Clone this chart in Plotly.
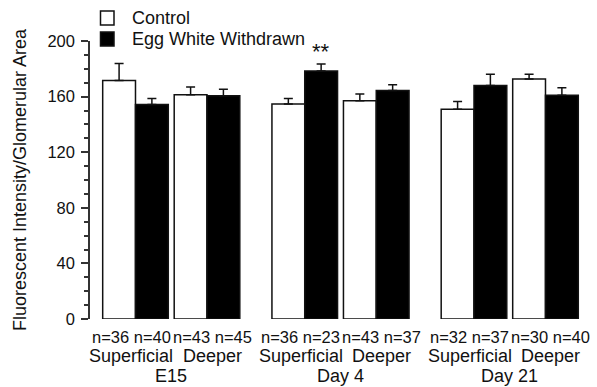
import plotly.graph_objects as go

# ---- data ----
groups = ["E15", "Day 4", "Day 21"]
layers = ["Superficial", "Deeper"]
series_names = ["Control", "Egg White Withdrawn"]
control_mean = [171.5, 161.4, 154.7, 157.1, 150.9, 172.6]
control_sem = [12.4, 5.5, 3.9, 4.8, 5.5, 3.4]
withdrawn_mean = [154.3, 160.7, 178.4, 164.3, 167.9, 160.9]
withdrawn_sem = [4.3, 4.5, 5.0, 4.3, 8.1, 5.5]
control_n = [36, 43, 36, 43, 32, 30]
withdrawn_n = [40, 45, 23, 37, 37, 40]
withdrawn_sig = ["", "", "**", "", "", ""]
y_ticks = [0, 40, 80, 120, 160, 200]

# ---- layout geometry (in bar-width units) ----
PX = 32.8            # pixels per bar width
FIRST = 1.387
GROUP_STEP = 5.16
PAIR_STEP = 2.18
BAR_W = 1.0
X_MAX = 500 / PX
LABEL_SHIFT = [-4 / PX, 5.5 / PX]   # superficial / deeper label offset

pair_x = []
for g in range(len(groups)):
    for s in range(len(layers)):
        pair_x.append(FIRST + g * GROUP_STEP + s * PAIR_STEP)
ctrl_x = [p - BAR_W / 2 for p in pair_x]
wd_x = [p + BAR_W / 2 for p in pair_x]
group_x = [(pair_x[2 * g] + pair_x[2 * g + 1]) / 2 for g in range(len(groups))]

FONT = "Arial, Liberation Sans, sans-serif"
INK = "#111111"
PLOT_L, PLOT_T, PLOT_W, PLOT_H = 90, 41, 500, 278


def px_x(px):
    return (px - PLOT_L) / PLOT_W


def px_y(py):
    return (PLOT_T + PLOT_H - py) / PLOT_H


fig = go.Figure()
fig.add_trace(go.Bar(
    x=ctrl_x, y=control_mean, width=BAR_W, name=series_names[0],
    marker=dict(color="white", line=dict(color=INK, width=1.5)),
    error_y=dict(type="data", array=control_sem, symmetric=False,
                 arrayminus=[0] * len(control_sem), color=INK,
                 thickness=1.5, width=4.5),
    showlegend=False,
))
fig.add_trace(go.Bar(
    x=wd_x, y=withdrawn_mean, width=BAR_W, name=series_names[1],
    marker=dict(color="black", line=dict(color=INK, width=1.5)),
    error_y=dict(type="data", array=withdrawn_sem, symmetric=False,
                 arrayminus=[0] * len(withdrawn_sem), color=INK,
                 thickness=1.5, width=4.5),
    showlegend=False,
))

ann = []
for i, p in enumerate(pair_x):
    sh = LABEL_SHIFT[i % 2]
    ann.append(dict(x=p + sh, y=px_y(337), xref="x", yref="paper",
                    text=f"n={control_n[i]} n={withdrawn_n[i]}",
                    showarrow=False, yanchor="middle",
                    font=dict(size=16.5, family=FONT, color=INK)))
    ann.append(dict(x=p + sh, y=px_y(356), xref="x", yref="paper",
                    text=layers[i % 2], showarrow=False, yanchor="middle",
                    font=dict(size=18, family=FONT, color=INK)))
for g, gx in enumerate(group_x):
    ann.append(dict(x=gx, y=px_y(376), xref="x", yref="paper",
                    text=groups[g], showarrow=False, yanchor="middle",
                    font=dict(size=18, family=FONT, color=INK)))
for i, s in enumerate(withdrawn_sig):
    if s:
        ann.append(dict(x=wd_x[i], y=withdrawn_mean[i] + withdrawn_sem[i],
                        xref="x", yref="y", text=s, showarrow=False,
                        yanchor="bottom", yshift=-2,
                        font=dict(size=22, family=FONT, color=INK)))

# manual legend
shapes = []
legend_fill = ["white", "black"]
legend_row_y = [18, 39]
for k, name in enumerate(series_names):
    cy = legend_row_y[k]
    shapes.append(dict(type="rect", xref="paper", yref="paper",
                       x0=px_x(100.5), x1=px_x(114), y0=px_y(cy + 7),
                       y1=px_y(cy - 7), fillcolor=legend_fill[k],
                       line=dict(color=INK, width=1.5)))
    ann.append(dict(x=px_x(130), y=px_y(cy), xref="paper", yref="paper",
                    text=name, showarrow=False, xanchor="left",
                    yanchor="middle",
                    font=dict(size=18, family=FONT, color=INK)))

fig.update_layout(
    width=597, height=387,
    margin=dict(l=PLOT_L, r=597 - PLOT_L - PLOT_W, t=PLOT_T,
                b=387 - PLOT_T - PLOT_H),
    paper_bgcolor="white", plot_bgcolor="white",
    barmode="overlay", showlegend=False,
    font=dict(family=FONT, size=16, color=INK),
    annotations=ann, shapes=shapes,
    xaxis=dict(range=[0, X_MAX], showticklabels=False, showline=False,
               showgrid=False, zeroline=False, ticks=""),
    yaxis=dict(range=[0, 200], tickvals=y_ticks, showgrid=False,
               zeroline=False, showline=True, linecolor="#333333",
               linewidth=1.5, ticks="outside", ticklen=7, tickwidth=1.5,
               tickcolor="#333333", ticklabelstandoff=3,
               minor=dict(dtick=10, ticks="outside", ticklen=4,
                          tickwidth=1.5, tickcolor="#333333"),
               tickfont=dict(size=16.5, family=FONT),
               title=dict(text="Fluorescent Intensity/Glomerular Area",
                          font=dict(size=18, family=FONT), standoff=16)),
)

fig.write_html("out.html")
